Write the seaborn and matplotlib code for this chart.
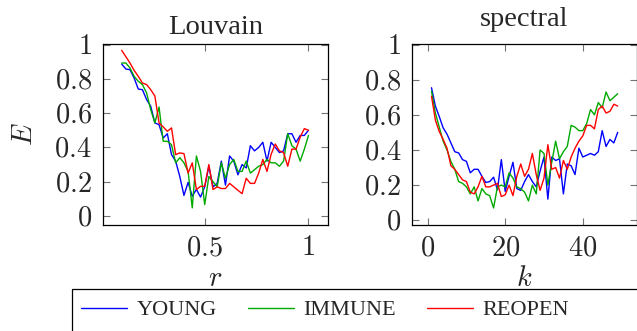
import matplotlib
matplotlib.use("Agg")
import matplotlib.pyplot as plt
from matplotlib.patches import Rectangle
from matplotlib.ticker import FuncFormatter
import pandas as pd
import seaborn as sns

# Louvain panel, E against resolution r
r_vals = [0.10, 0.12, 0.14, 0.16, 0.18, 0.20, 0.22, 0.24, 0.26, 0.28,
          0.30, 0.32, 0.34, 0.36, 0.38, 0.40, 0.42, 0.44, 0.46, 0.48,
          0.50, 0.52, 0.54, 0.56, 0.58, 0.60, 0.62, 0.64, 0.66, 0.68,
          0.70, 0.72, 0.74, 0.76, 0.78, 0.80, 0.82, 0.84, 0.86, 0.88,
          0.90, 0.92, 0.94, 0.96, 0.98, 1.00]
louvain_young = [0.887, 0.858, 0.854, 0.805, 0.741, 0.737, 0.68, 0.64, 0.543, 0.533,
                 0.455, 0.48, 0.358, 0.32, 0.23, 0.12, 0.196, 0.115, 0.155, 0.11,
                 0.17, 0.29, 0.17, 0.19, 0.32, 0.18, 0.35, 0.32, 0.24, 0.30,
                 0.28, 0.41, 0.38, 0.40, 0.43, 0.32, 0.43, 0.40, 0.37, 0.38,
                 0.48, 0.48, 0.43, 0.47, 0.47, 0.50]
louvain_immune = [0.893, 0.893, 0.864, 0.815, 0.786, 0.767, 0.718, 0.62, 0.543, 0.636,
                  0.436, 0.436, 0.416, 0.31, 0.34, 0.31, 0.26, 0.047, 0.35, 0.26,
                  0.066, 0.23, 0.20, 0.17, 0.31, 0.22, 0.30, 0.33, 0.26, 0.26,
                  0.32, 0.25, 0.27, 0.29, 0.30, 0.33, 0.31, 0.31, 0.29, 0.32,
                  0.48, 0.41, 0.39, 0.32, 0.39, 0.47]
louvain_reopen = [0.967, 0.93, 0.893, 0.85, 0.815, 0.776, 0.767, 0.737, 0.70, 0.543,
                  0.52, 0.494, 0.514, 0.358, 0.368, 0.364, 0.25, 0.31, 0.154, 0.173,
                  0.173, 0.30, 0.154, 0.17, 0.16, 0.16, 0.19, 0.17, 0.15, 0.13,
                  0.22, 0.19, 0.19, 0.25, 0.33, 0.26, 0.36, 0.42, 0.38, 0.37,
                  0.29, 0.39, 0.39, 0.46, 0.51, 0.50]

# spectral panel, E against number of clusters k
k_vals = list(range(1, 50))
spectral_young = [0.754, 0.65, 0.59, 0.526, 0.49, 0.44, 0.39, 0.383, 0.345, 0.335,
                  0.27, 0.29, 0.29, 0.25, 0.215, 0.22, 0.245, 0.173, 0.345, 0.164,
                  0.25, 0.33, 0.18, 0.17, 0.22, 0.26, 0.22, 0.19, 0.28, 0.36,
                  0.12, 0.36, 0.34, 0.35, 0.15, 0.32, 0.31, 0.26, 0.41, 0.36,
                  0.37, 0.38, 0.37, 0.39, 0.51, 0.42, 0.46, 0.44, 0.50]
spectral_immune = [0.735, 0.61, 0.53, 0.45, 0.40, 0.335, 0.29, 0.22, 0.21, 0.19,
                   0.15, 0.19, 0.11, 0.18, 0.15, 0.14, 0.07, 0.19, 0.20, 0.19,
                   0.27, 0.24, 0.19, 0.18, 0.16, 0.11, 0.20, 0.15, 0.40, 0.38,
                   0.20, 0.33, 0.45, 0.35, 0.39, 0.42, 0.54, 0.53, 0.51, 0.51,
                   0.55, 0.63, 0.60, 0.67, 0.64, 0.73, 0.68, 0.70, 0.72]
spectral_reopen = [0.706, 0.57, 0.505, 0.46, 0.41, 0.31, 0.29, 0.26, 0.23, 0.22,
                   0.16, 0.15, 0.19, 0.25, 0.19, 0.19, 0.20, 0.21, 0.135, 0.145,
                   0.20, 0.14, 0.25, 0.32, 0.25, 0.29, 0.38, 0.26, 0.17, 0.24,
                   0.43, 0.29, 0.30, 0.24, 0.34, 0.29, 0.36, 0.41, 0.45, 0.48,
                   0.54, 0.54, 0.52, 0.63, 0.65, 0.61, 0.62, 0.66, 0.65]

series = ["YOUNG", "IMMUNE", "REOPEN"]
palette = {"YOUNG": "#0000ff", "IMMUNE": "#00aa00", "REOPEN": "#ff0000"}


def long_frame(xname, xs, cols):
    parts = [pd.DataFrame({xname: xs, "E": ys, "strategy": name})
             for name, ys in zip(series, cols)]
    return pd.concat(parts, ignore_index=True)


louvain = long_frame("r", r_vals, [louvain_young, louvain_immune, louvain_reopen])
spectral = long_frame("k", k_vals, [spectral_young, spectral_immune, spectral_reopen])

sns.set_style("ticks")
plt.rcParams["font.family"] = ["Liberation Serif", "DejaVu Serif"]
plt.rcParams["mathtext.fontset"] = "cm"

W, H = 637, 331
fig = plt.figure(figsize=(W / 100, H / 100), dpi=100)
ax1 = fig.add_axes([103 / W, 1 - 225 / H, 225 / W, 181 / H])
ax2 = fig.add_axes([412.3 / W, 1 - 225 / H, 224.4 / W, 181 / H])

sns.lineplot(data=louvain, x="r", y="E", hue="strategy", palette=palette,
             estimator=None, legend=False, lw=1.0, ax=ax1)
sns.lineplot(data=spectral, x="k", y="E", hue="strategy", palette=palette,
             estimator=None, legend=False, lw=1.0, ax=ax2)

math_fmt = FuncFormatter(lambda v, p: f"${v:g}$")
for ax in (ax1, ax2):
    ax.set_yticks([0, 0.2, 0.4, 0.6, 0.8, 1.0])
    ax.yaxis.set_major_formatter(math_fmt)
    ax.xaxis.set_major_formatter(math_fmt)
    ax.tick_params(direction="in", length=5, width=0.8, color="0.45",
                   top=True, right=True, labelsize=20.5, pad=8)
    for s in ax.spines.values():
        s.set_linewidth(0.9)
        s.set_color("black")

ax1.set_xticks([0.5, 1.0])
ax1.set_xlim(0.01, 1.094)
ax1.set_ylim(-0.053, 1.004)
ax2.set_xticks([0, 20, 40])
ax2.set_xlim(-3.95, 53.9)
ax2.set_ylim(-0.027, 1.003)

ax1.set_title("Louvain", fontsize=20.5, pad=7.5)
ax2.set_title("spectral", fontsize=20.5, pad=13)
ax1.set_xlabel("$r$", fontsize=20.5, labelpad=4)
ax2.set_xlabel("$k$", fontsize=20.5, labelpad=4)
ax1.set_ylabel("$E$", fontsize=20.5, labelpad=12)
ax2.set_ylabel("")

# legend row at the bottom
handles = [plt.Line2D([], [], color=palette[s], lw=1.0) for s in series]
fig.legend(handles, series, loc="center left", frameon=False, ncol=3,
           bbox_to_anchor=(81 / W, 1 - 310 / H), borderpad=0, borderaxespad=0,
           fontsize=16, handlelength=2.07, handletextpad=0.45, columnspacing=1.37)
fig.patches.append(Rectangle((72 / W, 1 - 345 / H), 700 / W, 56 / H,
                             transform=fig.transFigure, fill=False,
                             edgecolor="black", lw=0.9))

fig.savefig("out.png", dpi=100)
